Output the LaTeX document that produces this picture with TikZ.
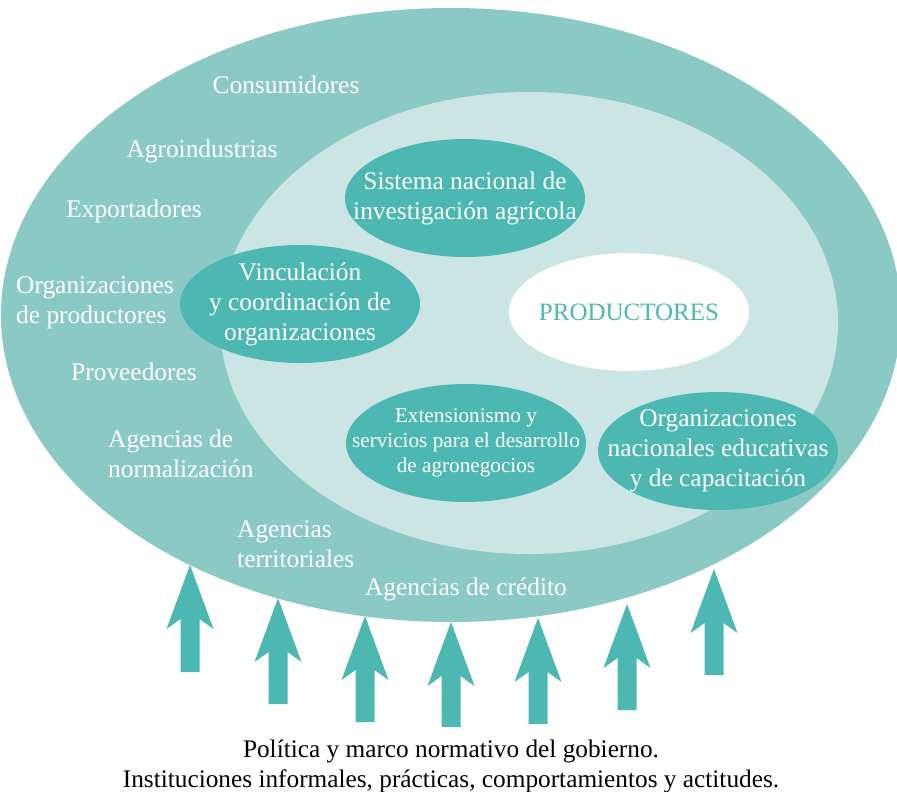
\documentclass[tikz,border=0pt]{standalone}
\usepackage{fontspec}
\setmainfont{Liberation Serif}
\usetikzlibrary{shapes.geometric}
\definecolor{outerc}{HTML}{8BC9C5}
\definecolor{innerc}{HTML}{CBE5E4}
\definecolor{darkc}{HTML}{4DB8B2}
\begin{document}
\begin{tikzpicture}[x=1pt,y=-1pt,
  lbl/.style={text=white,font=\fontsize{25.4}{30}\selectfont,inner sep=0pt},
  lbll/.style={lbl,align=left},
  inlbl/.style={lbl,align=center},
  smlbl/.style={text=white,font=\fontsize{21.2}{25}\selectfont,inner sep=0pt,align=center},
  darkell/.style={ellipse,fill=darkc,minimum width=240pt,minimum height=118pt,inner sep=0pt},
  prodell/.style={ellipse,fill=white,minimum width=240pt,minimum height=118pt,inner sep=0pt},
  bigring/.style={ellipse,fill=outerc,minimum width=900pt,minimum height=614pt,inner sep=0pt},
  midring/.style={ellipse,fill=innerc,minimum width=618pt,minimum height=462pt,inner sep=0pt},
  arrowfill/.style={fill=darkc},
  bottomtxt/.style={text=black,font=\fontsize{25.3}{30}\selectfont,inner sep=0pt,align=center}
]
\useasboundingbox (0,0) rectangle (897,792);
\begin{scope}
\clip (0,0) rectangle (897,792);
% rings
\node[bigring] (outer) at (451,315) {};
\node[midring] (inner) at (529,323) {};
\end{scope}
% arrows
\foreach \x/\t/\b in {190/565/672, 278/598/704, 365/616/722, 451/622/727, 538/618/724, 627/604/710, 714/569/675}{
  \fill[arrowfill] (\x,\t) -- (\x+23.5,\t+64) -- (\x+9.5,\t+54) -- (\x+9.5,\b) -- (\x-9.5,\b) -- (\x-9.5,\t+54) -- (\x-23.5,\t+64) -- cycle;
}
% inner ellipses
\node[darkell] (sis) at (465,198) {};
\node[inlbl] (sist) at (sis.center) {Sistema nacional de\\investigación agrícola};
\node[darkell] (vin) at (300,304) {};
\node[inlbl] (vint) at (vin.center) {Vinculación\\y coordinación de\\organizaciones};
\node[prodell] (prod) at (629,312) {};
\node[inner sep=0pt,text=darkc,font=\fontsize{25}{30}\selectfont,anchor=base] (prodt) at (629,320) {PRODUCTORES};
\node[darkell] (ext) at (466,443) {};
\node[smlbl] (extt) at (ext.center) {Extensionismo y\\servicios para el desarrollo\\de agronegocios};
\node[darkell] (org) at (718,451) {};
\node[inlbl] (orgt) at (org.center) {Organizaciones\\nacionales educativas\\y de capacitación};
% outer labels
\node[lbl,anchor=base] (cons) at (286,93) {Consumidores};
\node[lbl,anchor=base] (agro) at (202,157) {Agroindustrias};
\node[lbl,anchor=base] (expo) at (134,217) {Exportadores};
\node[lbll,anchor=west] (orgp) at (16,303) {Organizaciones\\de productores};
\node[lbl,anchor=base] (prov) at (134,380) {Proveedores};
\node[lbll,anchor=west] (norm) at (108,454) {Agencias de\\normalización};
\node[lbll,anchor=west] (terr) at (237,544) {Agencias\\territoriales};
\node[lbl,anchor=base] (cred) at (466,595) {Agencias de crédito};
% bottom text
\node[bottomtxt] (pol) at (451,766) {Política y marco normativo del gobierno.\\Instituciones informales, prácticas, comportamientos y actitudes.};
\end{tikzpicture}
\end{document}
